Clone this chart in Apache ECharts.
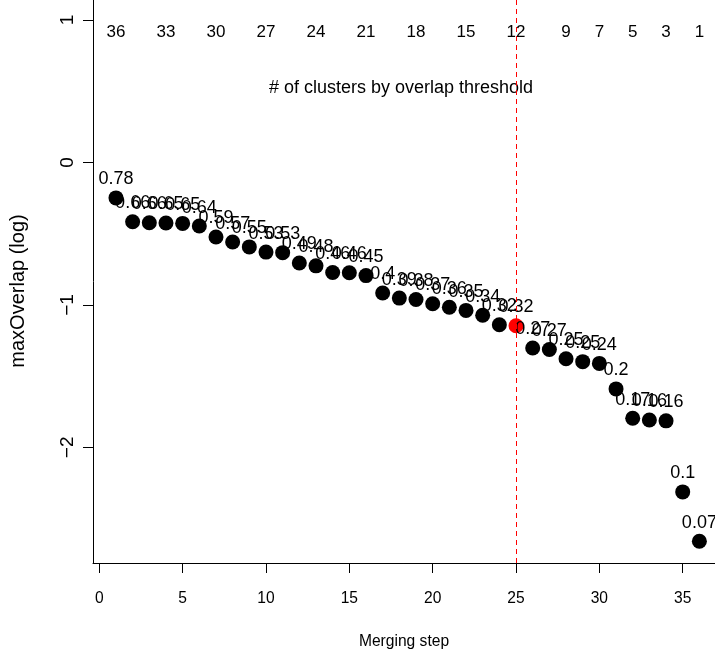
<!DOCTYPE html>
<html>
<head>
<meta charset="utf-8">
<script src="https://cdn.jsdelivr.net/npm/echarts@6/dist/echarts.min.js"></script>
<style>
html,body{margin:0;padding:0;background:#fff;}
#c{width:715px;height:657px;}
</style>
</head>
<body>
<div id="c"></div>
<script>
// Merging steps (x) and maxOverlap values
const steps = [1,2,3,4,5,6,7,8,9,10,11,12,13,14,15,16,17,18,19,20,21,22,23,24,25,26,27,28,29,30,31,32,33,34,35,36];
const maxOverlap = [0.78,0.66,0.655,0.654,0.652,0.64,0.593,0.572,0.553,0.533,0.531,0.494,0.484,0.462,0.461,0.452,0.40,0.386,0.382,0.371,0.362,0.354,0.342,0.32,0.318,0.272,0.269,0.252,0.247,0.244,0.204,0.166,0.164,0.163,0.099,0.07];
// top annotation: number of clusters at given steps
const clusterSteps = [1,4,7,10,13,16,19,22,25,28,30,32,34,36];
const clusterCounts = [36,33,30,27,24,21,18,15,12,9,7,5,3,1];
const xTicks = [0,5,10,15,20,25,30,35];
const yTicks = [-2,-1,0,1];
const chosenStep = 25;

const FONT = '"Liberation Sans", Arial, Helvetica, sans-serif';
const yTopText = 0.912;

const chart = echarts.init(document.getElementById('c'), null, {renderer:'canvas'});

const pointData = steps.map((s,i)=>({
  value:[s, Math.log(maxOverlap[i]), maxOverlap[i]],
  itemStyle:{color: s===chosenStep ? '#ff0000' : '#000000', opacity:1}
}));
const topData = clusterSteps.map((s,i)=>[s, yTopText, clusterCounts[i]]);

const option = {
  animation:false,
  backgroundColor:'#ffffff',
  grid:{left:93, right:0, top:0, bottom:94, containLabel:false},
  xAxis:{
    type:'value', min:-0.378, max:36.937,
    name:'Merging step', nameLocation:'middle', nameGap:71,
    nameTextStyle:{color:'#000', fontFamily:FONT, fontSize:15.6},
    axisLine:{show:true, onZero:false, lineStyle:{color:'#000', width:1}},
    axisTick:{show:true, length:10, customValues:xTicks, lineStyle:{color:'#000'}},
    axisLabel:{show:true, customValues:xTicks, margin:28, color:'#000', fontFamily:FONT, fontSize:15.6},
    splitLine:{show:false}
  },
  yAxis:{
    type:'value', min:-2.812, max:1.141,
    axisLine:{show:true, onZero:false, lineStyle:{color:'#000', width:1}},
    axisTick:{show:true, length:10, customValues:yTicks, lineStyle:{color:'#000'}},
    axisLabel:{show:true, customValues:yTicks, rotate:90, margin:16, color:'#000', fontFamily:FONT, fontSize:19,
      formatter:v=>String(v).replace('-','\u2212')},
    splitLine:{show:false}
  },
  graphic:[
    {type:'text', x:18, y:291, rotation:Math.PI/2,
     style:{text:'maxOverlap (log)', fill:'#000', font:'20px '+FONT, textAlign:'center', textVerticalAlign:'middle'}},
    {type:'text', x:401, y:88,
     style:{text:'# of clusters by overlap threshold', fill:'#000', font:'18px '+FONT, textAlign:'center', textVerticalAlign:'middle'}}
  ],
  series:[
    {
      type:'scatter', symbol:'circle', symbolSize:15,
      itemStyle:{opacity:1},
      data:pointData,
      label:{show:true, position:'top', distance:2, color:'#000', fontFamily:FONT, fontSize:18,
        formatter:p=>String(Math.round(p.value[2]*100)/100)},
      emphasis:{disabled:true},
      markLine:{
        silent:true, symbol:['none','none'], label:{show:false},
        lineStyle:{color:'#ff0000', type:[5,4], width:1, opacity:1},
        data:[{xAxis:chosenStep}]
      },
      z:3
    },
    {
      type:'scatter', symbolSize:0, silent:true,
      itemStyle:{opacity:1},
      data:topData,
      label:{show:true, position:'inside', color:'#000', fontFamily:FONT, fontSize:17,
        formatter:p=>String(p.value[2])},
      z:2
    }
  ]
};
chart.setOption(option);
</script>
</body>
</html>
